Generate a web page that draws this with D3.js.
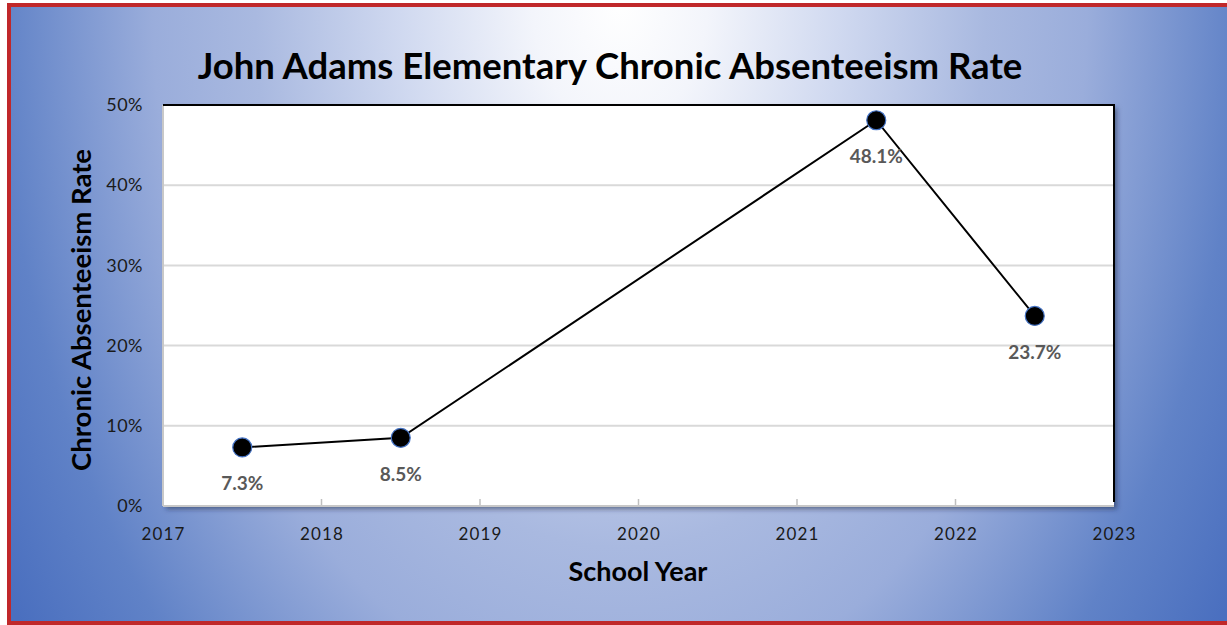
<!DOCTYPE html>
<html>
<head>
<meta charset="utf-8">
<script src="https://cdn.jsdelivr.net/npm/d3@7"></script>
<style>
  html, body { margin: 0; padding: 0; background: #ffffff; }
  svg { display: block; }
</style>
</head>
<body>
<svg id="chart" width="1227" height="625"></svg>
<script>
// ---- data ----
const title = "John Adams Elementary Chronic Absenteeism Rate";
const xTitle = "School Year";
const yTitle = "Chronic Absenteeism Rate";
const schoolYears = [2017.5, 2018.5, 2021.5, 2022.5];
const absenteeismRates = [0.073, 0.085, 0.481, 0.237];
const xTickValues = [2017, 2018, 2019, 2020, 2021, 2022, 2023];
const yTickValues = [0, 0.1, 0.2, 0.3, 0.4, 0.5];

const points = schoolYears.map((yr, i) => ({ yr, v: absenteeismRates[i] }));

const W = 1227, H = 625;
const FONT = "Lato, 'Open Sans', sans-serif";
const svg = d3.select("#chart");
const defs = svg.append("defs");

// background gradient (elliptical, centred at top)
const grad = defs.append("radialGradient")
  .attr("id", "bg")
  .attr("gradientUnits", "userSpaceOnUse")
  .attr("cx", 620).attr("cy", 0).attr("r", 730)
  .attr("fx", 620).attr("fy", 0)
  .attr("gradientTransform", "translate(620,0) scale(1,1.5) translate(-620,0)");
[[0, "#ffffff"], [0.12, "#f3f5fb"], [0.3, "#d0d9f0"], [0.5, "#a9b9e0"], [0.64, "#9aaddb"], [0.85, "#6082c7"], [1, "#4a6fbf"]]
  .forEach(([o, c]) => grad.append("stop").attr("offset", o).attr("stop-color", c));

const shadow = defs.append("filter").attr("id", "shadow")
  .attr("x", "-5%").attr("y", "-5%").attr("width", "110%").attr("height", "115%");
shadow.append("feDropShadow").attr("dx", 3).attr("dy", 3).attr("stdDeviation", 2.5)
  .attr("flood-color", "#1e2a45").attr("flood-opacity", 0.55);

// background + red frame
svg.append("rect").attr("x", 9).attr("y", 5).attr("width", W + 20).attr("height", 618)
  .attr("fill", "url(#bg)").attr("stroke", "#c0282a").attr("stroke-width", 4);

// scales
const x = d3.scaleLinear().domain([2017, 2023]).range([163, 1114]);
const y = d3.scaleLinear().domain([0, 0.5]).range([506, 105]);

const pl = x.range()[0], pr = x.range()[1], pt = y.range()[1], pb = y.range()[0];

// plot area
svg.append("rect").attr("x", pl).attr("y", pt).attr("width", pr - pl).attr("height", pb - pt)
  .attr("fill", "#ffffff").attr("filter", "url(#shadow)");

// gridlines
svg.append("g").selectAll("line").data(yTickValues.filter(d => d > 0 && d < 0.5)).join("line")
  .attr("x1", pl).attr("x2", pr).attr("y1", d => y(d)).attr("y2", d => y(d))
  .attr("stroke", "#d9d9d9").attr("stroke-width", 2);

// x tick marks inside plot
svg.append("g").selectAll("line").data(xTickValues.slice(1, -1)).join("line")
  .attr("x1", d => x(d)).attr("x2", d => x(d)).attr("y1", pb - 7).attr("y2", pb)
  .attr("stroke", "#bfbfbf").attr("stroke-width", 1.5);

// frame edges: left/bottom gray, top/right black
svg.append("line").attr("x1", pl).attr("x2", pl).attr("y1", pt).attr("y2", pb)
  .attr("stroke", "#c8c8c8").attr("stroke-width", 2);
svg.append("line").attr("x1", pl).attr("x2", pr).attr("y1", pb).attr("y2", pb)
  .attr("stroke", "#c8c8c8").attr("stroke-width", 2);
svg.append("line").attr("x1", pl).attr("x2", pr + 1).attr("y1", pt).attr("y2", pt)
  .attr("stroke", "#000000").attr("stroke-width", 2);
svg.append("line").attr("x1", pr).attr("x2", pr).attr("y1", pt).attr("y2", pb - 4)
  .attr("stroke", "#000000").attr("stroke-width", 2);

// axes (labels only)
const yAxis = svg.append("g").attr("transform", `translate(${pl},0)`)
  .call(d3.axisLeft(y).tickValues(yTickValues).tickFormat(d3.format(".0%")).tickSize(0).tickPadding(20));
yAxis.select(".domain").remove();
yAxis.selectAll("text").attr("font-family", FONT).attr("font-size", 18).attr("fill", "#1a1a1a")
  .attr("letter-spacing", 0.5);

const xAxis = svg.append("g").attr("transform", `translate(0,${pb})`)
  .call(d3.axisBottom(x).tickValues(xTickValues).tickFormat(d3.format("d")).tickSize(0).tickPadding(22));
xAxis.select(".domain").remove();
xAxis.selectAll("text").attr("font-family", FONT).attr("font-size", 17).attr("fill", "#1a1a1a")
  .attr("letter-spacing", 1.2);

// line
svg.append("path").datum(points)
  .attr("d", d3.line().x(d => x(d.yr)).y(d => y(d.v)))
  .attr("fill", "none").attr("stroke", "#000000").attr("stroke-width", 2);

// markers
svg.append("g").selectAll("circle").data(points).join("circle")
  .attr("cx", d => x(d.yr)).attr("cy", d => y(d.v)).attr("r", 9.5)
  .attr("fill", "#000000").attr("stroke", "#4472c4").attr("stroke-width", 1.2);

// data labels
svg.append("g").selectAll("text").data(points).join("text")
  .attr("x", d => x(d.yr)).attr("y", d => y(d.v) + 43)
  .attr("text-anchor", "middle")
  .attr("font-family", FONT).attr("font-weight", 700).attr("font-size", 19).attr("fill", "#595959")
  .text(d => d3.format(".1%")(d.v));

// titles
svg.append("text").attr("x", 610).attr("y", 79).attr("text-anchor", "middle")
  .attr("font-family", FONT).attr("font-weight", 700).attr("font-size", 36.5).attr("fill", "#000000")
  .text(title);

svg.append("text").attr("x", 638).attr("y", 581).attr("text-anchor", "middle")
  .attr("font-family", FONT).attr("font-weight", 700).attr("font-size", 27).attr("fill", "#000000")
  .text(xTitle);

svg.append("text").attr("transform", "translate(91,310) rotate(-90)").attr("text-anchor", "middle")
  .attr("font-family", FONT).attr("font-weight", 700).attr("font-size", 27.5).attr("fill", "#000000")
  .text(yTitle);
</script>
</body>
</html>
